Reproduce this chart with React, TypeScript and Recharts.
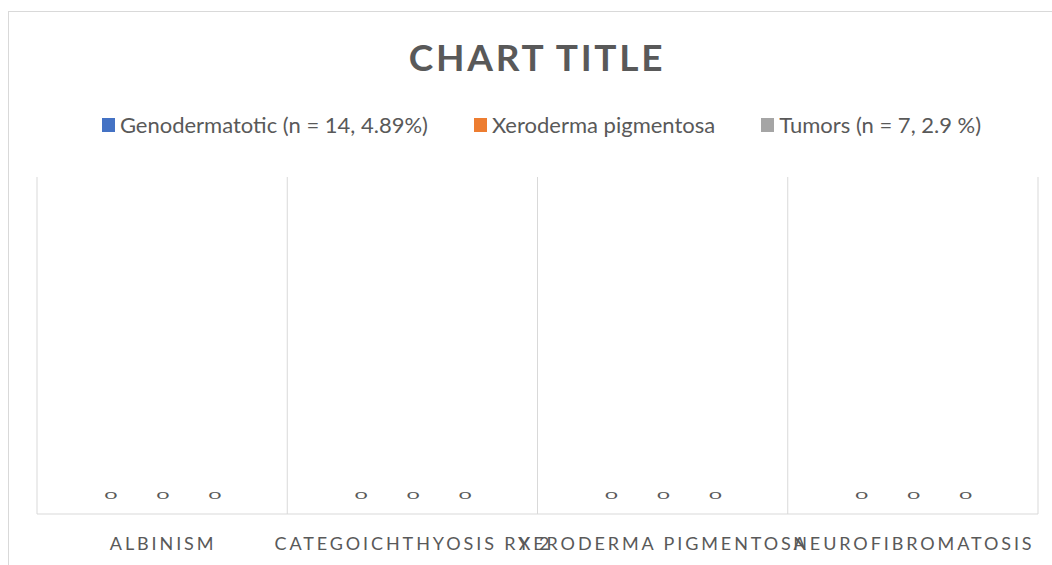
import React from 'react';
import { BarChart, Bar, XAxis, YAxis, CartesianGrid, LabelList } from 'recharts';

const categories = ['Albinism', 'CategoIchthyosis ry 2', 'Xeroderma pigmentosa', 'Neurofibromatosis'];
const seriesNames = ['Genodermatotic (n = 14, 4.89%)', 'Xeroderma pigmentosa', 'Tumors (n = 7, 2.9 %)'];
const seriesColors = ['#4472C4', '#ED7D31', '#A5A5A5'];
const genodermatotic = [0, 0, 0, 0];
const xerodermaPigmentosa = [0, 0, 0, 0];
const tumors = [0, 0, 0, 0];
const gridBoundaries = [0, 1, 2, 3, 4];

const seriesKeys = ['s0', 's1', 's2'];
const data = categories.map((c, i) => ({
  name: c,
  s0: genodermatotic[i],
  s1: xerodermaPigmentosa[i],
  s2: tumors[i],
}));

const TEXT = '#595959';
const FONT = 'Lato, "Open Sans", sans-serif';

const CategoryTick = (props: any) => {
  const { x, y, payload } = props;
  return (
    <text
      x={x + 1}
      y={y + 36}
      textAnchor="middle"
      fill={TEXT}
      fontSize={18}
      fontFamily={FONT}
      style={{ letterSpacing: '2.9px' }}
    >
      {String(payload.value).toUpperCase()}
    </text>
  );
};

const renderZeroLabel = (props: any) => {
  const vb = props.viewBox || {};
  const x = props.x ?? vb.x;
  const y = props.y ?? vb.y;
  const width = props.width ?? vb.width ?? 0;
  const height = props.height ?? vb.height ?? 0;
  let value = props.value;
  if (Array.isArray(value)) value = value[1] - value[0];
  if (x == null || y == null || isNaN(Number(x)) || isNaN(Number(y))) return null;
  const cx = Number(x) + Number(width) / 2 + 1;
  const bottom = Math.max(Number(y), Number(y) + Number(height));
  return (
    <text
      transform={`translate(${cx},${bottom - 15}) scale(1.3,0.6)`}
      textAnchor="middle"
      fill={TEXT}
      fontSize={17}
      fontFamily={FONT}
    >
      {String(value)}
    </text>
  );
};

const verticalGen = ({ offset }: any) =>
  gridBoundaries.map((b) => offset.left + (offset.width * b) / categories.length);

export default function App() {
  return (
    <div
      style={{
        position: 'absolute',
        left: 8,
        top: 11,
        width: 1043,
        height: 553,
        borderLeft: '1px solid #d9d9d9',
        borderTop: '1px solid #d9d9d9',
        overflow: 'hidden',
        background: '#fff',
        fontFamily: FONT,
      }}
    >
      <div
        style={{
          position: 'absolute',
          left: 0,
          top: 23,
          width: 1056,
          textAlign: 'center',
          fontSize: 37,
          fontWeight: 700,
          color: TEXT,
          letterSpacing: '2.7px',
          lineHeight: '44px',
        }}
      >
        CHART TITLE
      </div>
      <div
        style={{
          position: 'absolute',
          left: 0,
          top: 100,
          width: 1065,
          display: 'flex',
          justifyContent: 'center',
          alignItems: 'center',
          fontSize: 22,
          color: TEXT,
          lineHeight: '26px',
        }}
      >
        {seriesNames.map((n, i) => (
          <div key={n} style={{ display: 'flex', alignItems: 'center', marginRight: i < 2 ? 46 : 0 }}>
            <span style={{ display: 'inline-block', width: 13, height: 14, background: seriesColors[i], marginRight: 5 }} />
            <span>{n}</span>
          </div>
        ))}
      </div>
      <BarChart
        width={1043}
        height={553}
        data={data}
        margin={{ top: 165, right: 14, bottom: 11, left: 28 }}
        barSize={40}
        barGap={12}
      >
        <CartesianGrid horizontal={false} stroke="#d9d9d9" strokeWidth={1} verticalCoordinatesGenerator={verticalGen} />
        <XAxis
          dataKey="name"
          axisLine={{ stroke: '#d9d9d9' }}
          tickLine={false}
          tickSize={0}
          tickMargin={0}
          height={40}
          interval={0}
          tick={<CategoryTick />}
        />
        <YAxis hide domain={[0, 1]} />
        {seriesKeys.map((k, i) => (
          <Bar
            key={k}
            dataKey={k}
            name={seriesNames[i]}
            fill={seriesColors[i]}
            minPointSize={0.01}
            isAnimationActive={false}
          >
            <LabelList dataKey={k} content={renderZeroLabel} />
          </Bar>
        ))}
      </BarChart>
    </div>
  );
}
